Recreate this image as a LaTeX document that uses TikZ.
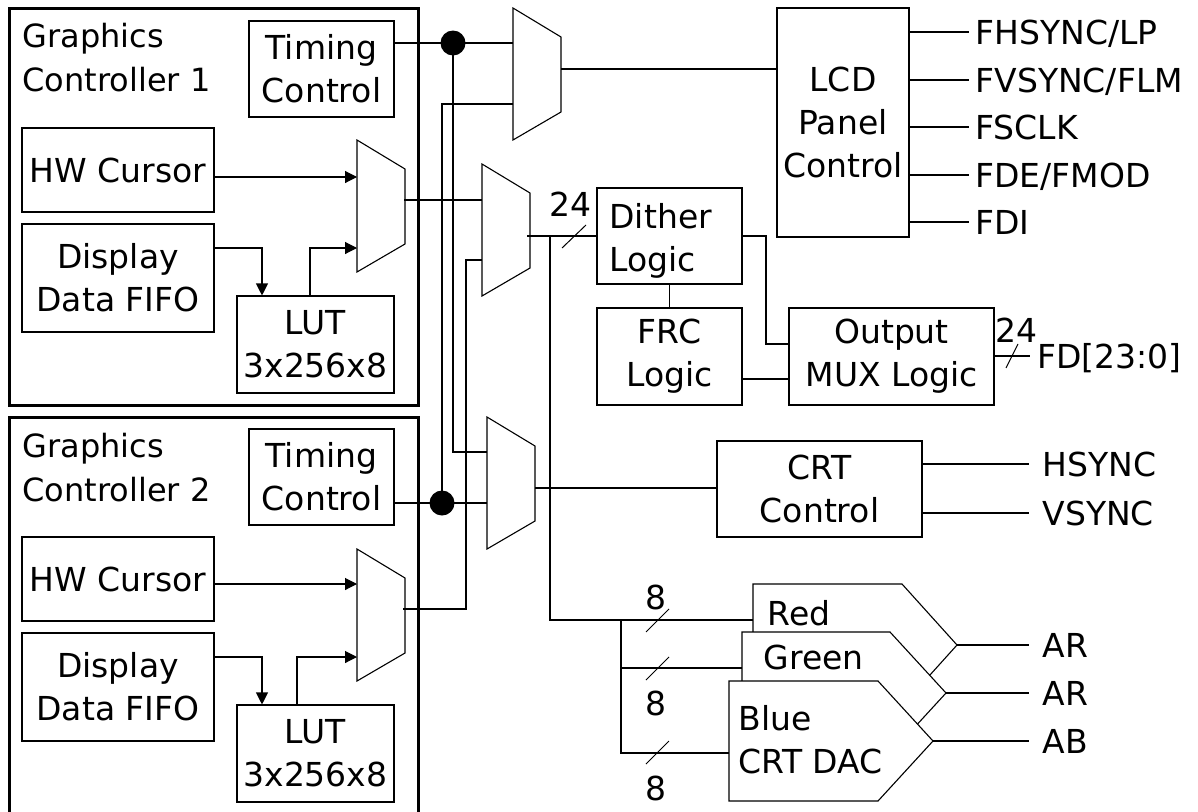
\documentclass[tikz,border=0pt]{standalone}
\usepackage{fontspec}
\setmainfont{DejaVu Sans}
\usetikzlibrary{arrows.meta}
\newcommand\dfont{\fontsize{33}{43}\selectfont}
\newcommand\tfont{\fontsize{32}{44}\selectfont}
\begin{document}
\begin{tikzpicture}[x=1pt,y=-1pt,line width=1.1pt,
  blk/.style={draw,line width=1.1pt,inner sep=0pt,align=center,font=\dfont},
  txt/.style={inner sep=0pt,font=\dfont},
  gcbox/.style={line width=3pt},
  arr/.style={-{Triangle[length=12pt,width=12pt]}},
  buss/.style={line width=1pt},
  muxshape/.pic={\draw (0,0) -- (48,29) -- (48,104) -- (0,132) -- cycle;},
]
\useasboundingbox (0,0) rectangle (1198,811);

% Graphics controller frames
\draw[gcbox] (9,8) rectangle (418,405);
\draw[gcbox] (418,815) -- (418,417) -- (9,417) -- (9,815);
\node[txt,font=\tfont,anchor=north west,align=left] (t1) at (22,23) {Graphics\\Controller 1};
\node[txt,font=\tfont,anchor=north west,align=left] (t2) at (22,433) {Graphics\\Controller 2};

% blocks in controller 1
\node[blk,minimum width=145,minimum height=96] (tc1) at (321.5,69) {Timing\\Control};
\node[blk,minimum width=192,minimum height=84] (hw1) at (118,170) {HW Cursor};
\node[blk,minimum width=192,minimum height=108] (fifo1) at (118,278) {Display\\Data FIFO};
\node[blk,minimum width=157,minimum height=97] (lut1) at (315.5,344.5) {LUT\\3x256x8};
% blocks in controller 2
\node[blk,minimum width=145,minimum height=96] (tc2) at (321.5,477) {Timing\\Control};
\node[blk,minimum width=192,minimum height=84] (hw2) at (118,579) {HW Cursor};
\node[blk,minimum width=192,minimum height=108] (fifo2) at (118,687) {Display\\Data FIFO};
\node[blk,minimum width=157,minimum height=97] (lut2) at (315.5,753.5) {LUT\\3x256x8};

% right-hand blocks
\node[blk,minimum width=145,minimum height=96] (dither) at (669.5,236) {};
\node[txt,anchor=north west,align=left] (dithertxt) at (609,203) {Dither\\Logic};
\node[blk,minimum width=145,minimum height=97] (frc) at (669.5,356.5) {FRC\\Logic};
\node[blk,minimum width=205,minimum height=97] (omux) at (891.5,356.5) {Output\\MUX Logic};
\node[blk,minimum width=132,minimum height=229] (lcd) at (843,122.5) {LCD\\Panel\\Control};
\node[blk,minimum width=205,minimum height=96] (crt) at (819.5,489) {CRT\\Control};

% multiplexers
\pic at (357,140) {muxshape};
\pic at (357,549) {muxshape};
\pic at (513,8) {muxshape};
\pic at (482,164) {muxshape};
\pic at (487,417) {muxshape};
\coordinate (g1a) at (357,177); \coordinate (g1b) at (357,248); \coordinate (g1o) at (404,200);
\coordinate (g2a) at (357,584); \coordinate (g2b) at (357,657); \coordinate (g2o) at (403,609);
\coordinate (m1a) at (513,43);  \coordinate (m1b) at (513,104); \coordinate (m1o) at (561,69);
\coordinate (m2a) at (482,200); \coordinate (m2b) at (482,260); \coordinate (m2o) at (527,236);
\coordinate (m3a) at (487,452); \coordinate (m3b) at (487,503); \coordinate (m3o) at (535,488);

% controller internal wiring
\draw[arr] (hw1.east |- g1a) -- (g1a);
\coordinate (f1) at (262,248); \coordinate (l1) at (310,248);
\draw[arr] (fifo1.east |- f1) -- (f1) -- (f1 |- lut1.north);
\draw[arr] (l1 |- lut1.north) -- (l1) -- (g1b);
\draw[arr] (hw2.east |- g2a) -- (g2a);
\coordinate (f2) at (262,657); \coordinate (l2) at (297,657);
\draw[arr] (fifo2.east |- f2) -- (f2) -- (f2 |- lut2.north);
\draw[arr] (l2 |- lut2.north) -- (l2) -- (g2b);

% timing buses
\coordinate (d1) at (453,43); \coordinate (d2) at (442,503);
\draw (tc1.east |- d1) -- (d1) -- (m1a);
\draw (d1) |- (m3a);
\draw (m1b) -| (d2);
\draw (tc2.east |- d2) -- (m3b);
\fill (d1) circle (12.5);
\fill (d2) circle (12.5);

% data buses
\draw (g1o) -- (m2a);
\coordinate (k1) at (466,609);
\draw (g2o) -- (k1) |- (m2b);
\draw (m1o) -- (lcd.west |- m1o);
\draw (m2o) -- (dither.west |- m2o);
\draw[buss] (562,248) -- (586,225);
\node[txt] (n24a) at (570,204) {24};
\coordinate (k2) at (766,236); \coordinate (k3) at (766,344);
\draw (dither.east |- k2) -- (k2) -- (k3) -- (omux.west |- k3);
\draw (dither.south) -- (frc.north);
\coordinate (k4) at (742,379);
\draw (frc.east |- k4) -- (omux.west |- k4);
\coordinate (fdend) at (1030,356);
\draw (omux.east |- fdend) -- (fdend);
\draw[buss] (1006,368) -- (1018,344);
\node[txt] (n24b) at (1016,330) {24};
\node[txt,anchor=base west] (fd) at (1037,368) {FD[23:0]};

% LCD outputs
\foreach \yy/\lab [count=\i] in {32/FHSYNC\slash LP,80/FVSYNC\slash FLM,127/FSCLK,175/FDE\slash FMOD,222/FDI}{
  \coordinate (e\i) at (969,\yy);
  \draw (lcd.east |- e\i) -- (e\i);
  \node[txt,anchor=base west] (lo\i) at (975,\yy+12) {\lab};
}

% CRT control
\draw (m3o) -- (crt.west |- m3o);
\coordinate (h1) at (1029,464); \coordinate (h2) at (1029,513);
\draw (crt.east |- h1) -- (h1);
\draw (crt.east |- h2) -- (h2);
\node[txt,anchor=base west] (hs) at (1042,476) {HSYNC};
\node[txt,anchor=base west] (vs) at (1042,525) {VSYNC};

% DACs
\coordinate (j1) at (550,236);
\coordinate (rin) at (753,620); \coordinate (gin) at (742,668); \coordinate (bin) at (729,753);
\coordinate (b1) at (550,620); \coordinate (b2) at (621,620); \coordinate (b3) at (621,668); \coordinate (b4) at (621,753);
\draw (j1) -- (b1) -- (rin);
\draw (b2) -- (b4) -- (bin);
\draw (b3) -- (gin);
\draw[fill=white] (753,584) -- (902,584) -- (957,645) -- (902,706) -- (753,706) -- cycle;
\draw[fill=white] (742,632) -- (890,632) -- (946,693) -- (890,754) -- (742,754) -- cycle;
\draw[fill=white] (729,681) -- (878,681) -- (933,741) -- (878,801) -- (729,801) -- cycle;
\coordinate (rout) at (957,645); \coordinate (gout) at (946,693); \coordinate (bout) at (933,741);
\node[txt,anchor=west] (red) at (767,613) {Red};
\node[txt,anchor=west] (green) at (763,657) {Green};
\node[txt,anchor=west,align=left] (blue) at (738,740) {Blue\\CRT DAC};
\draw[buss] (646,632) -- (669,609);
\draw[buss] (646,680) -- (669,657);
\draw[buss] (646,764) -- (669,741);
\node[txt] (n8a) at (656,597) {8};
\node[txt] (n8b) at (656,703) {8};
\node[txt] (n8c) at (656,788) {8};
\coordinate (a1) at (1029,645); \coordinate (a2) at (1029,693); \coordinate (a3) at (1029,741);
\draw (rout) -- (a1);
\draw (gout) -- (a2);
\draw (bout) -- (a3);
\node[txt,anchor=base west] (ar1) at (1042,657) {AR};
\node[txt,anchor=base west] (ar2) at (1042,705) {AR};
\node[txt,anchor=base west] (ab) at (1042,753) {AB};
\end{tikzpicture}
\end{document}
